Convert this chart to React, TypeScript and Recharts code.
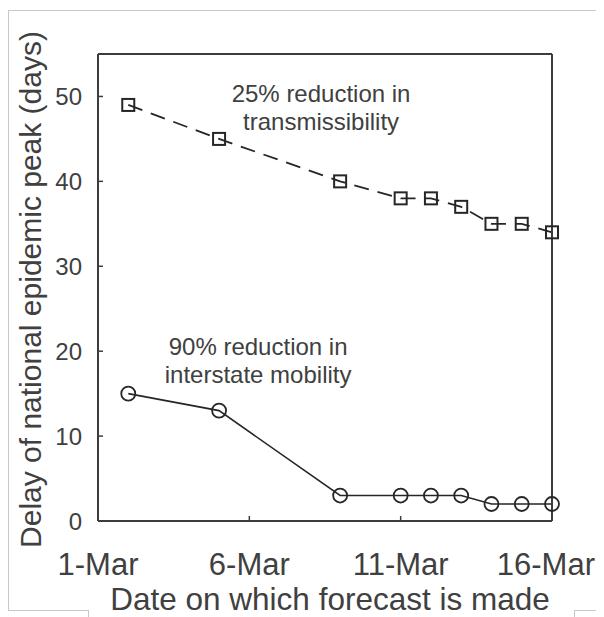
import React from 'react';
import { LineChart, Line, XAxis, YAxis, ReferenceDot } from 'recharts';

const forecastDays = [2, 5, 9, 11, 12, 13, 14, 15, 16];
const transmissibilityDelay = [49, 45, 40, 38, 38, 37, 35, 35, 34];
const mobilityDelay = [15, 13, 3, 3, 3, 3, 2, 2, 2];
const xTicks = [1, 6, 11, 16];
const yTicks = [0, 10, 20, 30, 40, 50];
const monthLabel = 'Mar';
const yTitle = 'Delay of national epidemic peak (days)';
const xTitle = 'Date on which forecast is made';
const noteTransmissibility = ['25% reduction in', 'transmissibility'];
const noteMobility = ['90% reduction in', 'interstate mobility'];

const data = forecastDays.map((d, i) => ({
  day: d,
  trans: transmissibilityDelay[i],
  mob: mobilityDelay[i],
}));

const FONT = '"Liberation Sans", Arial, sans-serif';
const TEXT = '#404040';
const AXIS = '#3c3c3c';
const LINE = '#262626';
const FRAME = '#c8c8c8';
const CHART_W = 588;
const CHART_H = 609;

if (typeof document !== 'undefined' && document.body) {
  document.body.style.overflow = 'hidden';
}

const SquareDot = (props: any) => {
  const { cx, cy, index } = props;
  if (cx == null || cy == null) return null;
  return (
    <rect
      key={`sq-${index}`}
      x={cx - 6}
      y={cy - 6}
      width={12}
      height={12}
      fill="none"
      stroke={LINE}
      strokeWidth={2}
    />
  );
};

const XTick = (props: any) => {
  const { x, y, payload, index, visibleTicksCount } = props;
  const isLast = index === (visibleTicksCount ?? xTicks.length) - 1;
  const tx = isLast ? CHART_W - 1 : x;
  return (
    <text
      x={tx}
      y={y}
      dy="0.71em"
      textAnchor={isLast ? 'end' : 'middle'}
      fill={TEXT}
      fontSize={31}
      fontFamily={FONT}
    >
      {`${payload.value}-${monthLabel}`}
    </text>
  );
};

const noteContent = (lines: string[]) => (props: any) => {
  const vb = props.viewBox || {};
  const x = (vb.x ?? 0) + (vb.width ?? 0) / 2;
  const y = (vb.y ?? 0) + (vb.height ?? 0) / 2;
  return (
    <text x={x} y={y} textAnchor="middle" fill={TEXT} fontSize={24} fontFamily={FONT}>
      <tspan x={x} y={y}>{lines[0]}</tspan>
      <tspan x={x} y={y + 28}>{lines[1]}</tspan>
    </text>
  );
};

const yTitleContent = (props: any) => {
  const vb = props.viewBox || {};
  const cx = (vb.x ?? 0) + 3;
  const cy = (vb.y ?? 0) + (vb.height ?? 0) / 2 + 2;
  return (
    <text
      x={cx}
      y={cy}
      transform={`rotate(-90, ${cx}, ${cy})`}
      textAnchor="middle"
      fill={TEXT}
      fontSize={30}
      fontFamily={FONT}
    >
      {yTitle}
    </text>
  );
};

const xTitleContent = (props: any) => {
  const vb = props.viewBox || {};
  const x = (vb.x ?? 0) + (vb.width ?? 0) / 2 + 5;
  const y = (vb.y ?? 0) + 89;
  return (
    <text x={x} y={y} textAnchor="middle" fill={TEXT} fontSize={31.5} fontFamily={FONT}>
      {xTitle}
    </text>
  );
};

const line = (style: React.CSSProperties) => (
  <div style={{ position: 'absolute', background: FRAME, ...style }} />
);

export default function App() {
  return (
    <div style={{ position: 'relative', width: CHART_W, height: CHART_H }}>
      {line({ left: 0, top: 2, width: CHART_W, height: 1 })}
      {line({ left: 0, top: 2, width: 1, height: 601 })}
      {line({ left: 0, top: 602, width: 81, height: 1 })}
      {line({ left: 80, top: 602, width: 1, height: 7 })}
      {line({ left: 566, top: 602, width: CHART_W - 566, height: 1 })}
      {line({ left: 566, top: 602, width: 1, height: 7 })}
      <div style={{ position: 'absolute', left: 0, top: 0, zIndex: 1 }}>
        <LineChart
          width={CHART_W}
          height={CHART_H}
          data={data}
          margin={{ top: 46, right: 44, bottom: 36, left: 30 }}
        >
          <XAxis
            dataKey="day"
            type="number"
            domain={[1, 16]}
            ticks={xTicks}
            height={60}
            tickSize={-5}
            tickMargin={37}
            axisLine={{ stroke: AXIS, strokeWidth: 2 }}
            tickLine={{ stroke: AXIS, strokeWidth: 1.5 }}
            tick={XTick}
            interval={0}
            label={{ content: xTitleContent }}
          />
          <XAxis
            xAxisId="top"
            dataKey="day"
            orientation="top"
            mirror
            type="number"
            domain={[1, 16]}
            ticks={xTicks}
            tickSize={5}
            tick={false}
            interval={0}
            axisLine={{ stroke: AXIS, strokeWidth: 2 }}
            tickLine={{ stroke: AXIS, strokeWidth: 1.5 }}
          />
          <YAxis
            type="number"
            domain={[0, 55]}
            ticks={yTicks}
            width={60}
            tickSize={-5}
            tickMargin={21}
            axisLine={{ stroke: AXIS, strokeWidth: 2 }}
            tickLine={{ stroke: AXIS, strokeWidth: 1.5 }}
            tick={{ fill: TEXT, fontSize: 24, fontFamily: FONT }}
            interval={0}
            label={{ content: yTitleContent }}
          />
          <YAxis
            yAxisId="right"
            orientation="right"
            mirror
            type="number"
            domain={[0, 55]}
            ticks={yTicks}
            tickSize={5}
            tick={false}
            interval={0}
            axisLine={{ stroke: AXIS, strokeWidth: 2 }}
            tickLine={{ stroke: AXIS, strokeWidth: 1.5 }}
          />
          <Line
            dataKey="trans"
            stroke={LINE}
            strokeWidth={1.8}
            strokeDasharray="15 9"
            dot={SquareDot}
            isAnimationActive={false}
          />
          <Line
            dataKey="mob"
            stroke={LINE}
            strokeWidth={1.6}
            dot={{ r: 7, fill: 'none', stroke: LINE, strokeWidth: 1.8 }}
            isAnimationActive={false}
          />
          <ReferenceDot
            x={8.37}
            y={49.35}
            r={0}
            fill="none"
            stroke="none"
            label={{ content: noteContent(noteTransmissibility) }}
          />
          <ReferenceDot
            x={6.29}
            y={19.55}
            r={0}
            fill="none"
            stroke="none"
            label={{ content: noteContent(noteMobility) }}
          />
        </LineChart>
      </div>
    </div>
  );
}
